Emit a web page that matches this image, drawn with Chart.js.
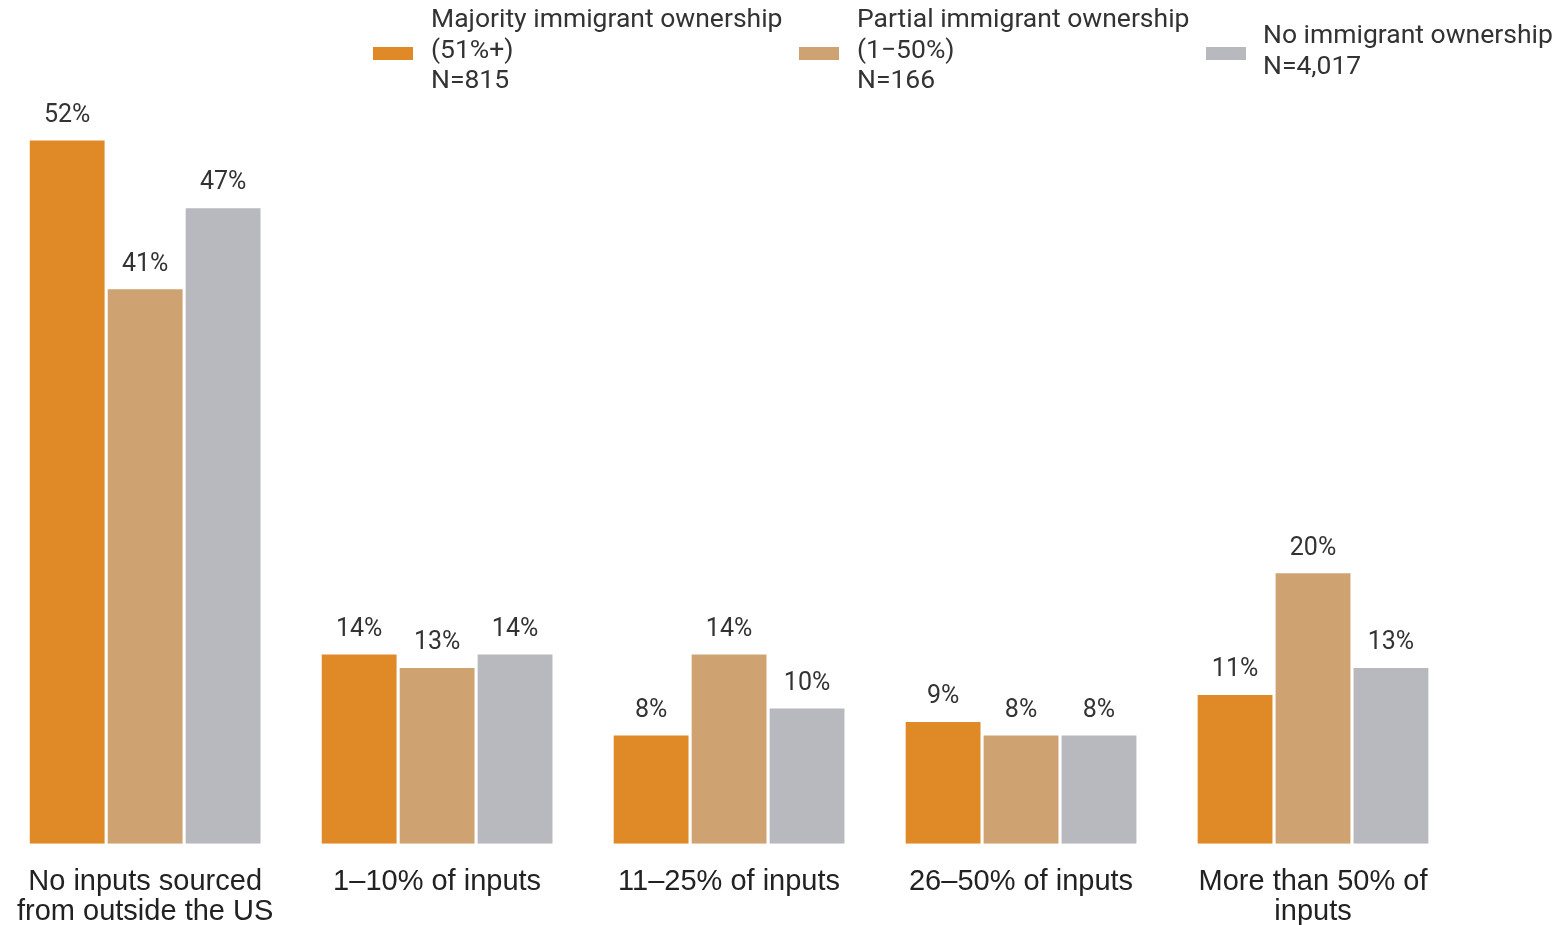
<!DOCTYPE html>
<html>
<head>
<meta charset="utf-8">
<script src="https://cdn.jsdelivr.net/npm/chart.js@4"></script>
<style>
  html, body { margin: 0; padding: 0; background: #fff; overflow: hidden; }
  #wrap { position: relative; width: 1563px; height: 925px; overflow: hidden; }
  canvas { position: absolute; left: -6px; top: 0; }
  .leg { position: absolute; font-family: Roboto, sans-serif; font-size: 26.5px; line-height: 30.5px; color: #333; white-space: nowrap; }
  .sw { position: absolute; width: 40px; height: 13px; }
</style>
</head>
<body>
<div id="wrap">
  <canvas id="c" width="1569" height="925"></canvas>
  <div class="sw" style="left:373px;top:47px;background:#E08A27"></div>
  <div class="leg" style="left:431px;top:3px">Majority immigrant ownership<br>(51%+)<br>N=815</div>
  <div class="sw" style="left:799px;top:47px;background:#CFA272"></div>
  <div class="leg" style="left:857px;top:3px">Partial immigrant ownership<br>(1−50%)<br>N=166</div>
  <div class="sw" style="left:1206px;top:47px;background:#B8B9BE"></div>
  <div class="leg" style="left:1263px;top:19px">No immigrant ownership<br>N=4,017</div>
</div>
<script>
const categories = [
  ["No inputs sourced", "from outside the US"],
  "1–10% of inputs",
  "11–25% of inputs",
  "26–50% of inputs",
  ["More than 50% of", "inputs"]
];
const seriesNames = ["Majority immigrant ownership (51%+) N=815", "Partial immigrant ownership (1–50%) N=166", "No immigrant ownership N=4,017"];
const majority = [52, 14, 8, 9, 11];
const partial = [41, 13, 14, 8, 20];
const none = [47, 14, 10, 8, 13];
const colors = ["#E08A27", "#CFA272", "#B8B9BE"];

const labelPlugin = {
  id: 'barLabels',
  afterDatasetsDraw(chart) {
    const ctx = chart.ctx;
    ctx.save();
    ctx.font = '25px Roboto, sans-serif';
    ctx.fillStyle = '#333';
    ctx.textAlign = 'center';
    ctx.textBaseline = 'middle';
    chart.data.datasets.forEach((ds, i) => {
      chart.getDatasetMeta(i).data.forEach((bar, j) => {
        ctx.fillText(ds.data[j] + '%', bar.x, bar.y - 25);
      });
    });
    ctx.restore();
  }
};

new Chart(document.getElementById('c'), {
  type: 'bar',
  data: {
    labels: categories,
    datasets: [
      { label: seriesNames[0], data: majority, backgroundColor: colors[0] },
      { label: seriesNames[1], data: partial, backgroundColor: colors[1] },
      { label: seriesNames[2], data: none, backgroundColor: colors[2] }
    ]
  },
  options: {
    responsive: false,
    animation: false,
    layout: { padding: { top: 100, left: 0, right: 104, bottom: -25 } },
    datasets: { bar: { categoryPercentage: 0.801, barPercentage: 0.96 } },
    plugins: { legend: { display: false }, tooltip: { enabled: false } },
    scales: {
      x: {
        grid: { display: false, drawTicks: false },
        border: { display: false },
        ticks: {
          color: '#222',
          font: { family: '"Liberation Sans", Arial, sans-serif', size: 29, lineHeight: 1.04 },
          padding: 23,
          maxRotation: 0,
          autoSkip: false
        }
      },
      y: {
        display: false,
        min: 0,
        max: 55
      }
    }
  },
  plugins: [labelPlugin]
});
</script>
</body>
</html>
